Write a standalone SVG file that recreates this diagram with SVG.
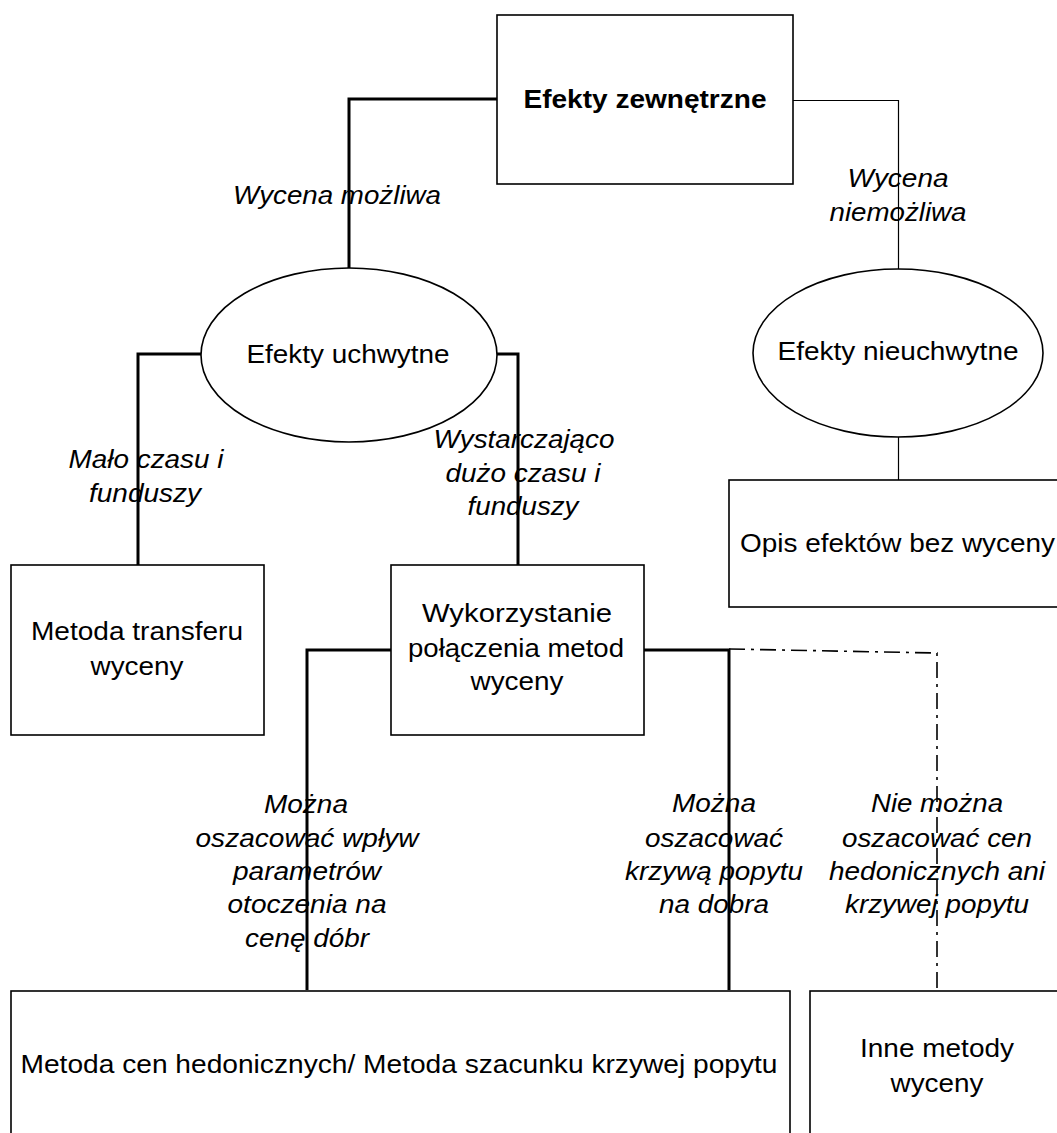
<svg xmlns="http://www.w3.org/2000/svg" width="1057" height="1133" viewBox="0 0 1057 1133">
<style>
text{font-family:"Liberation Sans",Arial,sans-serif;font-size:26px;fill:#000;text-anchor:middle}
.b{font-weight:bold}
.i{font-style:italic}
.box{fill:#fff;stroke:#000;stroke-width:1.6}
.thick{fill:none;stroke:#000;stroke-width:3}
.thin{fill:none;stroke:#000;stroke-width:1.2}
.dd{fill:none;stroke:#000;stroke-width:1.6;stroke-dasharray:16 6 3 6}
</style>
<rect width="1057" height="1133" fill="#fff"/>
<g id="connectors">
<polyline class="thick" points="497,99 349,99 349,268"/>
<polyline class="thin" points="793,100.5 898.5,100.5 898.5,269"/>
<line class="thin" x1="898.5" y1="437" x2="898.5" y2="480"/>
<polyline class="thick" points="201,354 138,354 138,565"/>
<polyline class="thick" points="497,354 518,354 518,565"/>
<polyline class="thick" points="391,650 307,650 307,990"/>
<polyline class="thick" points="644,650 729,650 729,990"/>
<polyline class="dd" points="729,649 937,653 937,990"/>
</g>
<g id="labels">
<text class="i" x="337" y="204" textLength="208" lengthAdjust="spacingAndGlyphs">Wycena możliwa</text>
<text class="i" x="898" y="187" textLength="101" lengthAdjust="spacingAndGlyphs">Wycena</text>
<text class="i" x="898" y="221" textLength="137" lengthAdjust="spacingAndGlyphs">niemożliwa</text>
<text class="i" x="146" y="468" textLength="155" lengthAdjust="spacingAndGlyphs">Mało czasu i</text>
<text class="i" x="145" y="502" textLength="112" lengthAdjust="spacingAndGlyphs">funduszy</text>
<text class="i" x="524" y="448" textLength="181" lengthAdjust="spacingAndGlyphs">Wystarczająco</text>
<text class="i" x="523" y="482" textLength="155" lengthAdjust="spacingAndGlyphs">dużo czasu i</text>
<text class="i" x="523" y="515" textLength="111" lengthAdjust="spacingAndGlyphs">funduszy</text>
<text class="i" x="306" y="813" textLength="84" lengthAdjust="spacingAndGlyphs">Można</text>
<text class="i" x="307" y="847" textLength="223" lengthAdjust="spacingAndGlyphs">oszacować wpływ</text>
<text class="i" x="307" y="880" textLength="148" lengthAdjust="spacingAndGlyphs">parametrów</text>
<text class="i" x="307" y="913" textLength="159" lengthAdjust="spacingAndGlyphs">otoczenia na</text>
<text class="i" x="307" y="947" textLength="124" lengthAdjust="spacingAndGlyphs">cenę dóbr</text>
<text class="i" x="714" y="812" textLength="84" lengthAdjust="spacingAndGlyphs">Można</text>
<text class="i" x="714" y="847" textLength="138" lengthAdjust="spacingAndGlyphs">oszacować</text>
<text class="i" x="714" y="880" textLength="178" lengthAdjust="spacingAndGlyphs">krzywą popytu</text>
<text class="i" x="714" y="913" textLength="110" lengthAdjust="spacingAndGlyphs">na dobra</text>
<text class="i" x="937" y="812" textLength="132" lengthAdjust="spacingAndGlyphs">Nie można</text>
<text class="i" x="937" y="847" textLength="190" lengthAdjust="spacingAndGlyphs">oszacować cen</text>
<text class="i" x="937" y="880" textLength="216" lengthAdjust="spacingAndGlyphs">hedonicznych ani</text>
<text class="i" x="937" y="913" textLength="184" lengthAdjust="spacingAndGlyphs">krzywej popytu</text>
</g>
<g id="n-efekty-zewnetrzne">
<rect class="box" x="497" y="15" width="296" height="169"/>
<text class="b" x="645" y="108" textLength="243" lengthAdjust="spacingAndGlyphs">Efekty zewnętrzne</text>
</g>
<g id="n-efekty-uchwytne">
<ellipse class="box" cx="349" cy="355" rx="148" ry="87"/>
<text x="348" y="363" textLength="203" lengthAdjust="spacingAndGlyphs">Efekty uchwytne</text>
</g>
<g id="n-efekty-nieuchwytne">
<ellipse class="box" cx="898" cy="353" rx="145" ry="84"/>
<text x="898" y="360" textLength="241" lengthAdjust="spacingAndGlyphs">Efekty nieuchwytne</text>
</g>
<g id="n-opis">
<rect class="box" x="729" y="480" width="340" height="127"/>
<text x="740" y="552" style="text-anchor:start" textLength="315" lengthAdjust="spacingAndGlyphs">Opis efektów bez wyceny</text>
</g>
<g id="n-metoda-transferu">
<rect class="box" x="11" y="565" width="253" height="170"/>
<text x="137" y="640" textLength="212" lengthAdjust="spacingAndGlyphs">Metoda transferu</text>
<text x="137" y="675" textLength="93" lengthAdjust="spacingAndGlyphs">wyceny</text>
</g>
<g id="n-wykorzystanie">
<rect class="box" x="391" y="565" width="253" height="170"/>
<text x="517" y="622" textLength="190" lengthAdjust="spacingAndGlyphs">Wykorzystanie</text>
<text x="516" y="657" textLength="216" lengthAdjust="spacingAndGlyphs">połączenia metod</text>
<text x="517" y="690" textLength="93" lengthAdjust="spacingAndGlyphs">wyceny</text>
</g>
<g id="n-metoda-cen">
<rect class="box" x="11" y="991" width="779" height="160"/>
<text x="399" y="1073" textLength="757" lengthAdjust="spacingAndGlyphs">Metoda cen hedonicznych/ Metoda szacunku krzywej popytu</text>
</g>
<g id="n-inne">
<rect class="box" x="810" y="991" width="260" height="160"/>
<text x="937" y="1057" textLength="154" lengthAdjust="spacingAndGlyphs">Inne metody</text>
<text x="937" y="1092" textLength="93" lengthAdjust="spacingAndGlyphs">wyceny</text>
</g>
</svg>
